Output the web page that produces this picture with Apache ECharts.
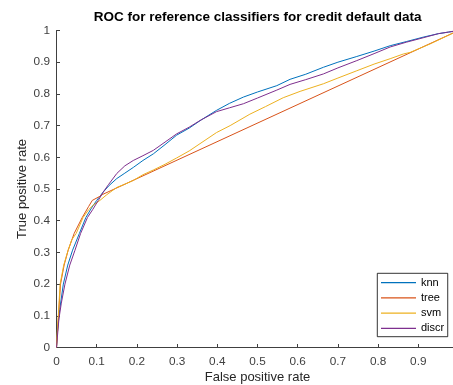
<!DOCTYPE html>
<html>
<head>
<meta charset="utf-8">
<script src="https://cdn.jsdelivr.net/npm/echarts@6/dist/echarts.min.js"></script>
<style>
  html, body { margin: 0; padding: 0; background: #fff; }
  #chart { width: 453px; height: 385px; }
</style>
</head>
<body>
<div id="chart"></div>
<script>
// ROC curves (false positive rate, true positive rate) for four classifiers
const seriesNames = ['knn', 'tree', 'svm', 'discr'];

const knnFpr = [0, 0.003, 0.008, 0.017, 0.028, 0.04, 0.057, 0.073, 0.087, 0.1, 0.116, 0.13, 0.15, 0.17, 0.191, 0.215, 0.241, 0.27, 0.299, 0.33, 0.36, 0.398, 0.43, 0.465, 0.5, 0.548, 0.581, 0.62, 0.664, 0.7, 0.747, 0.79, 0.83, 0.87, 0.912, 0.95, 0.975, 1];
const knnTpr = [0, 0.06, 0.12, 0.2, 0.26, 0.307, 0.36, 0.41, 0.44, 0.464, 0.49, 0.51, 0.533, 0.55, 0.568, 0.59, 0.611, 0.64, 0.67, 0.692, 0.718, 0.748, 0.77, 0.79, 0.806, 0.826, 0.846, 0.862, 0.884, 0.9, 0.918, 0.935, 0.952, 0.965, 0.979, 0.99, 0.995, 1];

const treeFpr = [0, 0.002, 0.005, 0.01, 0.019, 0.029, 0.044, 0.064, 0.08, 0.089, 0.092, 0.108, 0.115, 1];
const treeTpr = [0, 0.04, 0.10, 0.2, 0.26, 0.307, 0.36, 0.41, 0.445, 0.464, 0.47, 0.477, 0.483, 1];

const svmFpr = [0, 0.002, 0.005, 0.009, 0.018, 0.029, 0.038, 0.049, 0.066, 0.08, 0.092, 0.108, 0.125, 0.15, 0.17, 0.191, 0.215, 0.241, 0.27, 0.299, 0.33, 0.357, 0.398, 0.432, 0.481, 0.52, 0.564, 0.606, 0.664, 0.7, 0.747, 0.79, 0.83, 0.863, 0.88, 0.93, 1];
const svmTpr = [0, 0.05, 0.11, 0.2, 0.26, 0.307, 0.34, 0.36, 0.41, 0.435, 0.45, 0.464, 0.482, 0.505, 0.515, 0.527, 0.545, 0.56, 0.578, 0.598, 0.62, 0.643, 0.678, 0.70, 0.736, 0.76, 0.788, 0.808, 0.832, 0.85, 0.873, 0.894, 0.911, 0.926, 0.931, 0.958, 1];

const discrFpr = [0, 0.002, 0.006, 0.012, 0.021, 0.033, 0.046, 0.06, 0.077, 0.09, 0.104, 0.116, 0.13, 0.15, 0.17, 0.191, 0.215, 0.241, 0.27, 0.299, 0.33, 0.357, 0.398, 0.43, 0.465, 0.5, 0.548, 0.581, 0.62, 0.664, 0.7, 0.747, 0.79, 0.83, 0.87, 0.912, 0.95, 0.975, 1];
const discrTpr = [0, 0.03, 0.09, 0.14, 0.2, 0.26, 0.307, 0.36, 0.41, 0.435, 0.464, 0.49, 0.515, 0.549, 0.573, 0.59, 0.605, 0.622, 0.648, 0.674, 0.695, 0.716, 0.744, 0.756, 0.769, 0.787, 0.812, 0.83, 0.845, 0.863, 0.882, 0.905, 0.927, 0.948, 0.963, 0.977, 0.99, 0.995, 1];

const lineColors = ['#0072BD', '#D95319', '#EDB120', '#7E2F8E'];

const curves = [
  [knnFpr, knnTpr],
  [treeFpr, treeTpr],
  [svmFpr, svmTpr],
  [discrFpr, discrTpr]
];

const zip = (xs, ys) => xs.map((x, i) => [x, ys[i]]);

const FONT = '"Liberation Sans", Arial, Helvetica, sans-serif';
const AXIS_COLOR = '#404040';

const chart = echarts.init(document.getElementById('chart'), null, { renderer: 'canvas' });

const axisCommon = {
  type: 'value',
  min: 0,
  max: 1,
  interval: 0.1,
  splitLine: { show: false },
  axisLine: { show: true, lineStyle: { color: AXIS_COLOR, width: 1 } },
  axisTick: { show: true, inside: true, length: 3.5, lineStyle: { color: AXIS_COLOR, width: 1 } },
  nameLocation: 'middle',
  nameMoveOverlap: false,
  nameTextStyle: { fontFamily: FONT, fontSize: 13, color: '#262626' }
};

chart.setOption({
  animation: false,
  backgroundColor: '#fff',
  title: {
    text: 'ROC for reference classifiers for credit default data',
    left: 257.7,
    top: 10.3,
    padding: 0,
    textAlign: 'center',
    textStyle: { fontFamily: FONT, fontSize: 13.5, fontWeight: 'bold', color: '#000', lineHeight: 14 }
  },
  // the plot area runs slightly past the right edge of the canvas
  grid: { left: 56.5, top: 30.5, width: 402, height: 317, containLabel: false, outerBoundsMode: 'none' },
  xAxis: Object.assign({}, axisCommon, {
    name: 'False positive rate',
    nameGap: 23.5,
    axisLabel: { fontFamily: FONT, fontSize: 11.8, color: AXIS_COLOR, margin: 8 }
  }),
  yAxis: Object.assign({}, axisCommon, {
    name: 'True positive rate',
    nameGap: 28,
    axisLabel: { fontFamily: FONT, fontSize: 11.8, color: AXIS_COLOR, margin: 6.5 }
  }),
  legend: {
    data: seriesNames,
    orient: 'vertical',
    left: 377.3,
    top: 273.3,
    icon: 'path://M0,0H35V1.2H0Z',
    symbolKeepAspect: true,
    itemWidth: 35,
    itemHeight: 14,
    itemGap: 1.2,
    padding: [2.4, 3.5, 1.4, 3.7],
    borderColor: '#000',
    borderWidth: 0.8,
    backgroundColor: '#fff',
    textStyle: { fontFamily: FONT, fontSize: 11, color: '#000', lineHeight: 14 }
  },
  series: seriesNames.map((name, i) => ({
    name: name,
    type: 'line',
    data: zip(curves[i][0], curves[i][1]),
    symbol: 'none',
    showSymbol: false,
    color: lineColors[i],
    lineStyle: { width: 1, color: lineColors[i] },
    emphasis: { disabled: true }
  }))
});
</script>
</body>
</html>
